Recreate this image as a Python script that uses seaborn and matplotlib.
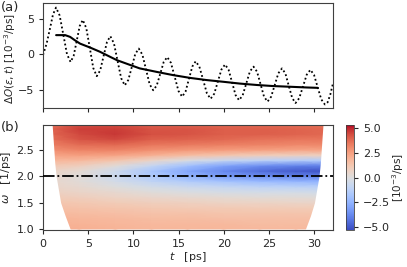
import numpy as np
import pandas as pd
import matplotlib
matplotlib.use("Agg")
import matplotlib.pyplot as plt
import seaborn as sns

# ---------------- data ----------------
# panel (a): oscillating signal (dotted)
t_dot = [0.0, 0.4, 0.8, 1.1, 1.44, 1.84, 2.25, 2.65, 3.05, 3.39, 3.73, 4.06, 4.4,
         4.79, 5.18, 5.56, 5.95, 6.33, 6.7, 7.08, 7.45, 7.85, 8.25, 8.65, 9.05,
         9.44, 9.83, 10.21, 10.6, 11.0, 11.4, 11.8, 12.2, 12.59, 12.98, 13.36, 13.75,
         14.16, 14.58, 14.99, 15.4, 15.78, 16.15, 16.53, 16.9, 17.31, 17.73, 18.14,
         18.55, 18.95, 19.35, 19.75, 20.15, 20.54, 20.93, 21.31, 21.7, 22.1, 22.5,
         22.9, 23.3, 23.69, 24.08, 24.46, 24.85, 25.25, 25.65, 26.05, 26.45, 26.83,
         27.2, 27.58, 27.95, 28.36, 28.78, 29.19, 29.6, 30.0, 30.4, 30.8, 31.2,
         31.5, 31.8, 32.1]
y_dot = [-0.1, 1.5, 3.8, 5.6, 6.6, 5.48, 2.75, 0.02, -1.1, -0.23, 1.88, 3.98, 4.85,
         3.69, 0.88, -1.94, -3.1, -2.28, -0.28, 1.73, 2.55, 1.54, -0.93, -3.39, -4.4,
         -3.64, -1.8, 0.04, 0.8, -0.06, -2.15, -4.24, -5.1, -4.41, -2.75, -1.09, -0.4,
         -1.22, -3.2, -5.18, -6.0, -5.27, -3.5, -1.73, -1.0, -1.77, -3.65, -5.53,
         -6.3, -5.59, -3.88, -2.16, -1.45, -2.19, -3.98, -5.76, -6.5, -5.81, -4.13,
         -2.44, -1.75, -2.47, -4.23, -5.98, -6.7, -6.01, -4.35, -2.69, -2.0, -2.72,
         -4.45, -6.18, -6.9, -6.21, -4.55, -2.89, -2.2, -2.92, -4.65, -6.38, -7.1,
         -6.8, -5.7, -4.1]
# panel (a): smooth trend (solid)
t_avg = [1.45, 2.45, 3.0, 3.5, 4.1, 5.2, 6.3, 7.4, 8.2, 9.5, 10.7, 12.6, 14.4,
         16.3, 18.1, 20.0, 21.8, 23.7, 25.5, 27.4, 29.2, 30.4]
y_avg = [2.7, 2.7, 2.45, 2.0, 1.5, 0.95, 0.35, -0.35, -0.85, -1.45, -2.0, -2.5,
         -2.95, -3.35, -3.65, -3.9, -4.15, -4.35, -4.5, -4.6, -4.7, -4.75]

# panel (b): spectrogram values, rows = omega, columns = t
t_cols = [0.5, 4, 8, 12, 16, 20, 24, 28, 31.6]
w_rows = [1.0, 1.1, 1.2, 1.3, 1.4, 1.5, 1.6, 1.7, 1.8, 1.9, 2.0, 2.1, 2.2, 2.3,
          2.4, 2.5, 2.6, 2.7, 2.8, 2.9, 3.0]
Z = [
    [2.1, 2.0, 1.9, 1.8, 1.8, 1.8, 1.7, 1.7, 1.7],
    [2.0, 1.9, 1.8, 1.7, 1.7, 1.7, 1.6, 1.6, 1.6],
    [1.9, 1.8, 1.7, 1.6, 1.6, 1.5, 1.5, 1.5, 1.5],
    [1.7, 1.6, 1.5, 1.4, 1.4, 1.3, 1.3, 1.3, 1.3],
    [1.5, 1.4, 1.3, 1.2, 1.1, 1.1, 1.0, 1.0, 1.0],
    [1.3, 1.2, 1.0, 0.9, 0.8, 0.7, 0.7, 0.6, 0.6],
    [1.0, 0.9, 0.7, 0.5, 0.4, 0.3, 0.2, 0.2, 0.1],
    [0.8, 0.6, 0.4, 0.1, -0.1, -0.3, -0.4, -0.4, -0.5],
    [0.6, 0.4, 0.0, -0.4, -0.7, -0.9, -1.1, -1.2, -1.3],
    [0.5, 0.2, -0.4, -1.0, -1.5, -1.9, -2.2, -2.4, -2.5],
    [0.5, 0.1, -0.7, -1.6, -2.5, -3.2, -3.6, -3.9, -4.0],
    [0.7, 0.3, -0.6, -1.8, -2.9, -3.8, -4.5, -4.9, -5.1],
    [1.2, 0.9, 0.2, -0.9, -2.0, -3.0, -3.6, -3.9, -4.0],
    [1.8, 1.7, 1.3, 0.6, -0.2, -0.8, -1.2, -1.4, -1.5],
    [2.4, 2.5, 2.4, 2.0, 1.6, 1.3, 1.0, 0.9, 0.8],
    [2.9, 3.2, 3.2, 2.9, 2.7, 2.6, 2.5, 2.4, 2.4],
    [3.3, 3.7, 3.8, 3.5, 3.4, 3.3, 3.2, 3.1, 3.1],
    [3.6, 4.2, 4.4, 4.0, 3.9, 3.8, 3.6, 3.5, 3.5],
    [3.8, 4.4, 4.7, 4.3, 4.2, 4.0, 4.0, 3.9, 3.8],
    [3.8, 4.6, 4.6, 4.2, 4.2, 4.0, 4.0, 3.9, 3.8],
    [3.5, 4.2, 4.3, 4.0, 3.8, 3.8, 3.7, 3.6, 3.5],
]
# valid-window edges of the spectrogram
edge_w = [0.9, 1.0, 1.25, 1.5, 1.75, 2.0, 2.25, 2.5, 2.75, 3.0]
left_t = [3.3, 3.0, 2.45, 1.95, 1.7, 1.45, 1.3, 1.2, 1.1, 1.0]
right_t = [28.8, 29.05, 29.6, 30.05, 30.3, 30.55, 30.7, 30.8, 30.9, 31.0]
w_ref = 2.0

x_ticks = [0, 5, 10, 15, 20, 25, 30]
w_ticks = [1.0, 1.5, 2.0, 2.5]
cb_ticks = [-5.0, -2.5, 0.0, 2.5, 5.0]

# ---------------- plotting ----------------
sns.set_style("ticks")
plt.rcParams['font.family'] = ['DejaVu Sans']
plt.rcParams['xtick.labelsize'] = 8
plt.rcParams['ytick.labelsize'] = 8
plt.rcParams['axes.labelsize'] = 8
plt.rcParams['axes.edgecolor'] = '0.25'
plt.rcParams['xtick.color'] = '0.15'
plt.rcParams['ytick.color'] = '0.15'
plt.rcParams['xtick.major.size'] = 3
plt.rcParams['ytick.major.size'] = 3

fig = plt.figure(figsize=(4.07, 2.67), dpi=100)
ax1 = fig.add_axes([0.1057, 0.5955, 0.7125, 0.3935])
ax2 = fig.add_axes([0.1057, 0.1386, 0.7125, 0.3932])
cax = fig.add_axes([0.850, 0.1386, 0.0197, 0.3932])

df_dot = pd.DataFrame({"t": t_dot, "y": y_dot})
df_avg = pd.DataFrame({"t": t_avg, "y": y_avg})
sns.lineplot(data=df_dot, x="t", y="y", ax=ax1, color="black",
             linestyle=(0, (1, 1.4)), linewidth=1.3, sort=False)
sns.lineplot(data=df_avg, x="t", y="y", ax=ax1, color="black", linewidth=1.5,
             sort=False)
ax1.set_xlim(0, 32.1)
ax1.set_ylim(-7.6, 7.25)
ax1.set_xticks(x_ticks)
ax1.set_xticklabels([])
ax1.set_yticks([-5, 0, 5])
ax1.set_xlabel("")
ax1.set_ylabel(r"$\Delta O(\epsilon, t)$ [$10^{-3}$/ps]", fontsize=7.5, labelpad=1)
ax1.yaxis.set_label_coords(-0.085, 0.47)

T, W = np.meshgrid(np.array(t_cols), np.array(w_rows))
mesh = ax2.pcolormesh(T, W, np.array(Z), shading="gouraud", cmap="coolwarm",
                      vmin=-5.3, vmax=5.3, zorder=1)
ax2.fill_betweenx(edge_w, -1, left_t, color="white", lw=0, zorder=2)
ax2.fill_betweenx(edge_w, right_t, 33, color="white", lw=0, zorder=2)
ax2.axhline(w_ref, color="black", linestyle="-.", linewidth=1.3, zorder=3)
ax2.set_xlim(0, 32.1)
ax2.set_ylim(0.98, 2.97)
ax2.set_xticks(x_ticks)
ax2.set_yticks(w_ticks)
ax2.set_xlabel(r"$t$   [ps]", labelpad=1)
ax2.set_ylabel(r"$\omega$   [1/ps]", labelpad=2)

cb = fig.colorbar(mesh, cax=cax, ticks=cb_ticks)
cb.ax.tick_params(labelsize=8, length=3)
cb.set_label(r"[$10^{-3}$/ps]", fontsize=7.5, labelpad=0)
cb.outline.set_linewidth(0.6)

fig.text(0.002, 0.998, "(a)", fontsize=9.5, va="top", ha="left")
fig.text(0.002, 0.545, "(b)", fontsize=9.5, va="top", ha="left")

fig.savefig("out.png", dpi=100)
